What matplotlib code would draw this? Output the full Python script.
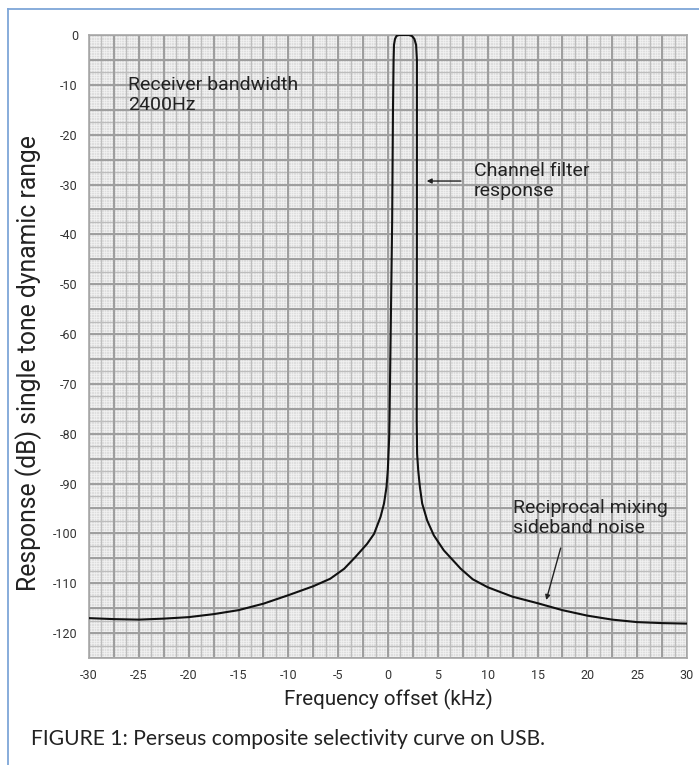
import matplotlib
matplotlib.use('Agg')
import matplotlib.pyplot as plt
import numpy as np

# curve (kHz, dB)
freq = [-30, -27.5, -25, -22.5, -20, -17.5, -15, -12.5, -10, -7.5, -5.8, -4.4, -3.3, -2.1, -1.4, -0.75, -0.4, -0.15,
        -0.02, 0.12, 0.15, 0.3, 0.42, 0.5, 0.56, 0.6, 0.7, 0.85, 1.1, 2.1, 2.4, 2.65, 2.82,
        2.9, 2.9, 2.88, 2.92, 3.03, 3.2, 3.43, 3.93, 4.6, 5.6, 7.3, 8.5, 10, 12.5, 15, 17.5, 20, 22.5, 25, 27.5, 30]
resp = [-117.0, -117.2, -117.3, -117.1, -116.8, -116.2, -115.4, -114.1, -112.4, -110.6, -109.1, -107.1, -104.8, -102.1, -100.1, -96.7, -94.0, -90.7,
        -87.3, -80.7, -77.3, -55.0, -37.0, -15.0, -5.0, -2.0, -0.8, -0.2, 0.0, 0.0, -0.2, -0.8, -2.0,
        -5.0, -37.0, -77.3, -84.0, -87.3, -90.7, -94.0, -97.4, -100.4, -103.4, -107.1, -109.2, -110.8, -112.7, -114.0, -115.4, -116.5, -117.3, -117.8, -118.0, -118.1]

xticks = [-30, -25, -20, -15, -10, -5, 0, 5, 10, 15, 20, 25, 30]
yticks = [0, -10, -20, -30, -40, -50, -60, -70, -80, -90, -100, -110, -120]

narrow = ['Roboto', 'DejaVu Sans']

fig = plt.figure(figsize=(6.99, 7.65), dpi=100)
ax = fig.add_axes([89 / 699, 107 / 765, 598 / 699, 623 / 765])
ax.set_facecolor('#dedede')

# graph paper grid
for v in np.arange(-30, 30.01, 0.25):
    ax.axvline(v, color='#f5f5f5', lw=0.45, zorder=0)
for v in np.arange(-125, 0.01, 0.5):
    ax.axhline(v, color='#f5f5f5', lw=0.45, zorder=0)
for v in np.arange(-30, 30.01, 1.25):
    ax.axvline(v, color='#bdbdbd', lw=0.9, zorder=0)
for v in np.arange(-125, 0.01, 2.5):
    ax.axhline(v, color='#bdbdbd', lw=0.9, zorder=0)
for v in np.arange(-30, 30.01, 2.5):
    ax.axvline(v, color='#9e9e9e', lw=1.4, zorder=0)
for v in np.arange(-125, 0.01, 5):
    ax.axhline(v, color='#9e9e9e', lw=1.4, zorder=0)

ax.plot(freq, resp, color='#111111', lw=1.5, zorder=3)

ax.set_xlim(-30, 30)
ax.set_ylim(-125, 0)
ax.set_xticks(xticks)
ax.set_yticks(yticks)
ax.set_xticklabels([str(t) for t in xticks], family=narrow, fontsize=9, color='#333333')
ax.set_yticklabels([str(t) for t in yticks], family=narrow, fontsize=9, color='#333333')
ax.tick_params(length=0, pad=8)
for s in ax.spines.values():
    s.set_color('#a8a8a8')
    s.set_linewidth(1.2)

ax.set_xlabel('Frequency offset (kHz)', family=narrow, fontsize=14.8, color='#222222', labelpad=5)
ax.set_ylabel('Response (dB) single tone dynamic range', family=narrow, fontsize=17.8,
              color='#222222')
ax.yaxis.set_label_coords(-0.078, 0.474)

ax.text(-26.1, -12.1, 'Receiver bandwidth\n2400Hz', family=narrow, fontsize=14,
        color='#222222', va='center', linespacing=1.15)
ax.text(8.6, -29.3, 'Channel filter\nresponse', family=narrow, fontsize=14,
        color='#222222', va='center', linespacing=1.15)
ax.text(12.5, -97.0, 'Reciprocal mixing\nsideband noise', family=narrow, fontsize=14,
        color='#222222', va='center', linespacing=1.15)

ax.annotate('', xy=(3.6, -29.3), xytext=(7.6, -29.3),
            arrowprops=dict(arrowstyle='-|>', color='#222222', lw=1.0, mutation_scale=7))
ax.annotate('', xy=(15.8, -113.9), xytext=(17.4, -102.4),
            arrowprops=dict(arrowstyle='-|>', color='#222222', lw=1.0, mutation_scale=7))

# frame lines and caption
fig.add_artist(plt.Line2D([8 / 699, 8 / 699], [0, 1 - 9 / 765], color='#7ea6d8', lw=1.3))
fig.add_artist(plt.Line2D([8 / 699, 1], [1 - 9 / 765, 1 - 9 / 765], color='#7ea6d8', lw=1.3))
fig.text(31 / 699, 1 - 739 / 765, 'FIGURE 1: Perseus composite selectivity curve on USB.',
         family=['Lato', 'DejaVu Sans'], fontsize=15.2, color='#222222', va='center')

fig.savefig('out.png', dpi=100)
